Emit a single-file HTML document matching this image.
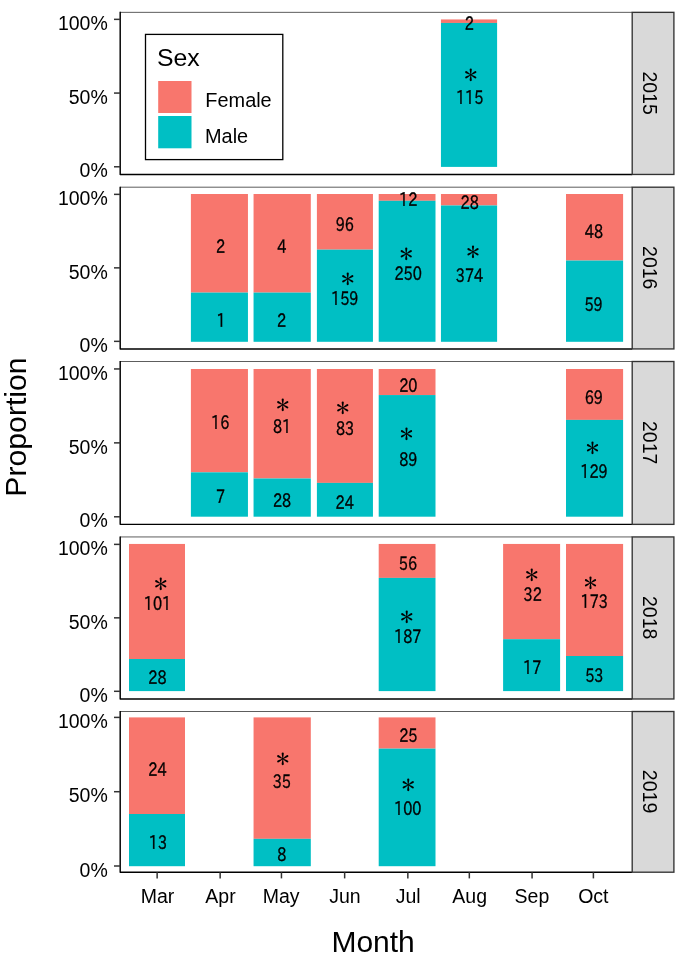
<!DOCTYPE html>
<html><head><meta charset="utf-8"><title>Proportion by Month</title>
<style>
html,body{margin:0;padding:0;background:#fff;}
svg{display:block;}
text{font-family:"Liberation Sans",sans-serif;fill:#000;}
.ax{font-size:19.5px;}
.st{font-size:19.5px;}
.ti{font-size:30px;}
.ty{font-size:30.2px;}
.lt{font-size:24.8px;}
.bl{font-family:"IPAGothic","Noto Sans CJK JP",sans-serif;font-size:19.0px;text-anchor:middle;}
.lg{font-size:19.9px;}
.bd{font-family:"IPAPGothic","IPAGothic","Noto Sans CJK JP",sans-serif;font-size:18.6px;text-anchor:middle;stroke:#000;stroke-width:0.4px;}
</style></head><body>
<svg width="685" height="959" viewBox="0 0 685 959">
<rect width="685" height="959" fill="#fff"/>
<g>
<rect x="440.95" y="19.45" width="56.15" height="3.50" fill="#F8766D"/>
<rect x="440.95" y="22.95" width="56.15" height="143.95" fill="#00BFC4"/>
<text class="bd" transform="translate(469.40,29.87) scale(0.78,1)">2</text>
<text class="bd" transform="translate(469.60,103.98) scale(0.78,1)">115</text>
<text class="bl" transform="translate(470.70,81.90) scale(1,1.0)">＊</text>
<line x1="120.2" y1="12.35" x2="632.2" y2="12.35" stroke="#333" stroke-width="0.8"/>
<polyline points="120.2,11.80 120.2,174.45 632.2,174.45" fill="none" stroke="#000" stroke-width="1.45" stroke-linejoin="round"/>
<rect x="632.2" y="12.35" width="41.70" height="162.10" fill="#D9D9D9" stroke="#333" stroke-width="1.35"/>
<text class="st" transform="translate(642.5,93.10) rotate(90)" text-anchor="middle">2015</text>
<line x1="114.0" y1="19.36" x2="120.2" y2="19.36" stroke="#333" stroke-width="1.5"/>
<text class="ax" x="107.8" y="30.06" text-anchor="end">100%</text>
<line x1="114.0" y1="93.07" x2="120.2" y2="93.07" stroke="#333" stroke-width="1.5"/>
<text class="ax" x="107.8" y="103.77" text-anchor="end">50%</text>
<line x1="114.0" y1="166.78" x2="120.2" y2="166.78" stroke="#333" stroke-width="1.5"/>
<text class="ax" x="107.8" y="177.48" text-anchor="end">0%</text>
</g>
<g>
<rect x="190.90" y="194.00" width="57.05" height="98.60" fill="#F8766D"/>
<rect x="190.90" y="292.60" width="57.05" height="49.20" fill="#00BFC4"/>
<rect x="253.55" y="194.00" width="57.25" height="98.60" fill="#F8766D"/>
<rect x="253.55" y="292.60" width="57.25" height="49.20" fill="#00BFC4"/>
<rect x="316.90" y="194.00" width="56.05" height="55.65" fill="#F8766D"/>
<rect x="316.90" y="249.65" width="56.05" height="92.15" fill="#00BFC4"/>
<rect x="378.70" y="194.00" width="56.80" height="6.80" fill="#F8766D"/>
<rect x="378.70" y="200.80" width="56.80" height="141.00" fill="#00BFC4"/>
<rect x="440.95" y="194.00" width="56.15" height="11.47" fill="#F8766D"/>
<rect x="440.95" y="205.47" width="56.15" height="136.33" fill="#00BFC4"/>
<rect x="566.00" y="194.00" width="57.10" height="66.55" fill="#F8766D"/>
<rect x="566.00" y="260.55" width="57.10" height="81.25" fill="#00BFC4"/>
<text class="bd" transform="translate(220.50,252.96) scale(0.78,1)">2</text>
<text class="bd" transform="translate(221.00,326.50) scale(0.78,1)">1</text>
<text class="bd" transform="translate(281.80,252.96) scale(0.78,1)">4</text>
<text class="bd" transform="translate(281.45,326.50) scale(0.78,1)">2</text>
<text class="bd" transform="translate(344.80,231.13) scale(0.78,1)">96</text>
<text class="bd" transform="translate(344.70,305.37) scale(0.78,1)">159</text>
<text class="bl" transform="translate(347.70,285.80) scale(1,1.0)">＊</text>
<text class="bd" transform="translate(408.20,206.18) scale(0.78,1)">12</text>
<text class="bd" transform="translate(408.10,280.07) scale(0.78,1)">250</text>
<text class="bl" transform="translate(406.35,260.75) scale(1,1.0)">＊</text>
<text class="bd" transform="translate(469.70,208.88) scale(0.78,1)">28</text>
<text class="bd" transform="translate(469.50,281.52) scale(0.78,1)">374</text>
<text class="bl" transform="translate(472.90,259.18) scale(1,1.0)">＊</text>
<text class="bd" transform="translate(593.95,237.58) scale(0.78,1)">48</text>
<text class="bd" transform="translate(593.55,310.57) scale(0.78,1)">59</text>
<line x1="120.2" y1="187.20" x2="632.2" y2="187.20" stroke="#333" stroke-width="0.8"/>
<polyline points="120.2,186.65 120.2,348.93 632.2,348.93" fill="none" stroke="#000" stroke-width="1.45" stroke-linejoin="round"/>
<rect x="632.2" y="187.20" width="41.70" height="161.73" fill="#D9D9D9" stroke="#333" stroke-width="1.35"/>
<text class="st" transform="translate(642.5,267.76) rotate(90)" text-anchor="middle">2016</text>
<line x1="114.0" y1="194.36" x2="120.2" y2="194.36" stroke="#333" stroke-width="1.5"/>
<text class="ax" x="107.8" y="205.06" text-anchor="end">100%</text>
<line x1="114.0" y1="267.86" x2="120.2" y2="267.86" stroke="#333" stroke-width="1.5"/>
<text class="ax" x="107.8" y="278.56" text-anchor="end">50%</text>
<line x1="114.0" y1="341.35" x2="120.2" y2="341.35" stroke="#333" stroke-width="1.5"/>
<text class="ax" x="107.8" y="352.05" text-anchor="end">0%</text>
</g>
<g>
<rect x="190.90" y="369.00" width="57.05" height="103.33" fill="#F8766D"/>
<rect x="190.90" y="472.33" width="57.05" height="44.37" fill="#00BFC4"/>
<rect x="253.55" y="369.00" width="57.25" height="109.50" fill="#F8766D"/>
<rect x="253.55" y="478.50" width="57.25" height="38.20" fill="#00BFC4"/>
<rect x="316.90" y="369.00" width="56.05" height="113.90" fill="#F8766D"/>
<rect x="316.90" y="482.90" width="56.05" height="33.80" fill="#00BFC4"/>
<rect x="378.70" y="369.00" width="56.80" height="26.06" fill="#F8766D"/>
<rect x="378.70" y="395.06" width="56.80" height="121.64" fill="#00BFC4"/>
<rect x="566.00" y="369.00" width="57.10" height="50.90" fill="#F8766D"/>
<rect x="566.00" y="419.90" width="57.10" height="96.80" fill="#00BFC4"/>
<text class="bd" transform="translate(220.20,429.22) scale(0.78,1)">16</text>
<text class="bd" transform="translate(220.50,503.24) scale(0.78,1)">7</text>
<text class="bd" transform="translate(282.10,433.03) scale(0.78,1)">81</text>
<text class="bd" transform="translate(282.05,507.25) scale(0.78,1)">28</text>
<text class="bl" transform="translate(282.76,411.90) scale(1,1.0)">＊</text>
<text class="bd" transform="translate(345.00,435.24) scale(0.78,1)">83</text>
<text class="bd" transform="translate(344.70,509.16) scale(0.78,1)">24</text>
<text class="bl" transform="translate(342.87,414.75) scale(1,1.0)">＊</text>
<text class="bd" transform="translate(408.30,392.26) scale(0.78,1)">20</text>
<text class="bd" transform="translate(408.30,466.08) scale(0.78,1)">89</text>
<text class="bl" transform="translate(406.60,440.68) scale(1,1.0)">＊</text>
<text class="bd" transform="translate(593.80,403.66) scale(0.78,1)">69</text>
<text class="bd" transform="translate(594.00,477.58) scale(0.78,1)">129</text>
<text class="bl" transform="translate(592.48,454.98) scale(1,1.0)">＊</text>
<line x1="120.2" y1="361.50" x2="632.2" y2="361.50" stroke="#333" stroke-width="0.8"/>
<polyline points="120.2,360.95 120.2,524.37 632.2,524.37" fill="none" stroke="#000" stroke-width="1.45" stroke-linejoin="round"/>
<rect x="632.2" y="361.50" width="41.70" height="162.87" fill="#D9D9D9" stroke="#333" stroke-width="1.35"/>
<text class="st" transform="translate(642.5,442.63) rotate(90)" text-anchor="middle">2017</text>
<line x1="114.0" y1="368.95" x2="120.2" y2="368.95" stroke="#333" stroke-width="1.5"/>
<text class="ax" x="107.8" y="379.65" text-anchor="end">100%</text>
<line x1="114.0" y1="442.87" x2="120.2" y2="442.87" stroke="#333" stroke-width="1.5"/>
<text class="ax" x="107.8" y="453.57" text-anchor="end">50%</text>
<line x1="114.0" y1="516.79" x2="120.2" y2="516.79" stroke="#333" stroke-width="1.5"/>
<text class="ax" x="107.8" y="527.49" text-anchor="end">0%</text>
</g>
<g>
<rect x="129.00" y="543.94" width="56.00" height="115.06" fill="#F8766D"/>
<rect x="129.00" y="659.00" width="56.00" height="32.10" fill="#00BFC4"/>
<rect x="378.70" y="543.94" width="56.80" height="33.96" fill="#F8766D"/>
<rect x="378.70" y="577.90" width="56.80" height="113.20" fill="#00BFC4"/>
<rect x="503.10" y="543.94" width="57.00" height="95.26" fill="#F8766D"/>
<rect x="503.10" y="639.20" width="57.00" height="51.90" fill="#00BFC4"/>
<rect x="566.00" y="543.94" width="57.10" height="112.06" fill="#F8766D"/>
<rect x="566.00" y="656.00" width="57.10" height="35.10" fill="#00BFC4"/>
<text class="bd" transform="translate(157.50,609.75) scale(0.78,1)">101</text>
<text class="bd" transform="translate(157.40,683.91) scale(0.78,1)">28</text>
<text class="bl" transform="translate(160.80,590.59) scale(1,1.0)">＊</text>
<text class="bd" transform="translate(407.90,570.36) scale(0.78,1)">56</text>
<text class="bd" transform="translate(407.70,643.32) scale(0.78,1)">187</text>
<text class="bl" transform="translate(406.75,624.10) scale(1,1.0)">＊</text>
<text class="bd" transform="translate(532.70,601.30) scale(0.78,1)">32</text>
<text class="bd" transform="translate(532.20,674.31) scale(0.78,1)">17</text>
<text class="bl" transform="translate(531.75,581.55) scale(1,1.0)">＊</text>
<text class="bd" transform="translate(594.30,607.76) scale(0.78,1)">173</text>
<text class="bd" transform="translate(594.30,681.87) scale(0.78,1)">53</text>
<text class="bl" transform="translate(590.38,589.63) scale(1,1.0)">＊</text>
<line x1="120.2" y1="536.94" x2="632.2" y2="536.94" stroke="#333" stroke-width="0.8"/>
<polyline points="120.2,536.39 120.2,698.98 632.2,698.98" fill="none" stroke="#000" stroke-width="1.45" stroke-linejoin="round"/>
<rect x="632.2" y="536.94" width="41.70" height="162.04" fill="#D9D9D9" stroke="#333" stroke-width="1.35"/>
<text class="st" transform="translate(642.5,617.66) rotate(90)" text-anchor="middle">2018</text>
<line x1="114.0" y1="544.38" x2="120.2" y2="544.38" stroke="#333" stroke-width="1.5"/>
<text class="ax" x="107.8" y="555.08" text-anchor="end">100%</text>
<line x1="114.0" y1="617.84" x2="120.2" y2="617.84" stroke="#333" stroke-width="1.5"/>
<text class="ax" x="107.8" y="628.54" text-anchor="end">50%</text>
<line x1="114.0" y1="691.30" x2="120.2" y2="691.30" stroke="#333" stroke-width="1.5"/>
<text class="ax" x="107.8" y="702.00" text-anchor="end">0%</text>
</g>
<g>
<rect x="129.00" y="717.40" width="56.00" height="96.60" fill="#F8766D"/>
<rect x="129.00" y="814.00" width="56.00" height="52.20" fill="#00BFC4"/>
<rect x="253.55" y="717.40" width="57.25" height="121.44" fill="#F8766D"/>
<rect x="253.55" y="838.84" width="57.25" height="27.36" fill="#00BFC4"/>
<rect x="378.70" y="717.40" width="56.80" height="31.24" fill="#F8766D"/>
<rect x="378.70" y="748.64" width="56.80" height="117.56" fill="#00BFC4"/>
<text class="bd" transform="translate(157.40,775.84) scale(0.78,1)">24</text>
<text class="bd" transform="translate(157.95,849.04) scale(0.78,1)">13</text>
<text class="bd" transform="translate(281.80,787.63) scale(0.78,1)">35</text>
<text class="bd" transform="translate(281.90,861.33) scale(0.78,1)">8</text>
<text class="bl" transform="translate(282.70,765.76) scale(1,1.0)">＊</text>
<text class="bd" transform="translate(408.30,742.21) scale(0.78,1)">25</text>
<text class="bd" transform="translate(407.80,814.91) scale(0.78,1)">100</text>
<text class="bl" transform="translate(408.37,792.16) scale(1,1.0)">＊</text>
<line x1="120.2" y1="711.50" x2="632.2" y2="711.50" stroke="#333" stroke-width="0.8"/>
<polyline points="120.2,710.95 120.2,872.20 632.2,872.20" fill="none" stroke="#000" stroke-width="1.45" stroke-linejoin="round"/>
<rect x="632.2" y="711.50" width="41.70" height="160.70" fill="#D9D9D9" stroke="#333" stroke-width="1.35"/>
<text class="st" transform="translate(642.5,791.55) rotate(90)" text-anchor="middle">2019</text>
<line x1="114.0" y1="717.40" x2="120.2" y2="717.40" stroke="#333" stroke-width="1.5"/>
<text class="ax" x="107.8" y="728.10" text-anchor="end">100%</text>
<line x1="114.0" y1="791.70" x2="120.2" y2="791.70" stroke="#333" stroke-width="1.5"/>
<text class="ax" x="107.8" y="802.40" text-anchor="end">50%</text>
<line x1="114.0" y1="866.00" x2="120.2" y2="866.00" stroke="#333" stroke-width="1.5"/>
<text class="ax" x="107.8" y="876.70" text-anchor="end">0%</text>
</g>
<line x1="157.14" y1="872.20" x2="157.14" y2="878.40" stroke="#333" stroke-width="1.5"/>
<text class="ax" x="157.49" y="902.9" text-anchor="middle">Mar</text>
<line x1="220.15" y1="872.20" x2="220.15" y2="878.40" stroke="#333" stroke-width="1.5"/>
<text class="ax" x="220.50" y="902.9" text-anchor="middle">Apr</text>
<line x1="281.45" y1="872.20" x2="281.45" y2="878.40" stroke="#333" stroke-width="1.5"/>
<text class="ax" x="281.20" y="902.9" text-anchor="middle">May</text>
<line x1="344.65" y1="872.20" x2="344.65" y2="878.40" stroke="#333" stroke-width="1.5"/>
<text class="ax" x="345.00" y="902.9" text-anchor="middle">Jun</text>
<line x1="407.84" y1="872.20" x2="407.84" y2="878.40" stroke="#333" stroke-width="1.5"/>
<text class="ax" x="408.19" y="902.9" text-anchor="middle">Jul</text>
<line x1="469.33" y1="872.20" x2="469.33" y2="878.40" stroke="#333" stroke-width="1.5"/>
<text class="ax" x="469.68" y="902.9" text-anchor="middle">Aug</text>
<line x1="532.07" y1="872.20" x2="532.07" y2="878.40" stroke="#333" stroke-width="1.5"/>
<text class="ax" x="531.92" y="902.9" text-anchor="middle">Sep</text>
<line x1="593.40" y1="872.20" x2="593.40" y2="878.40" stroke="#333" stroke-width="1.5"/>
<text class="ax" x="593.35" y="902.9" text-anchor="middle">Oct</text>
<text class="ti" x="373.1" y="952.0" text-anchor="middle">Month</text>
<text class="ty" transform="translate(26.0,427.0) rotate(-90)" text-anchor="middle">Proportion</text>
<rect x="145.5" y="34.4" width="137.3" height="125.2" fill="#fff" stroke="#000" stroke-width="1.3"/>
<text class="lt" x="157.0" y="65.7">Sex</text>
<rect x="158.2" y="81.0" width="33.3" height="32.0" fill="#F8766D"/>
<rect x="158.2" y="116.0" width="33.3" height="32.3" fill="#00BFC4"/>
<text class="lg" x="205.35" y="107.4">Female</text>
<text class="lg" x="205.05" y="142.7">Male</text>
</svg>
</body></html>
